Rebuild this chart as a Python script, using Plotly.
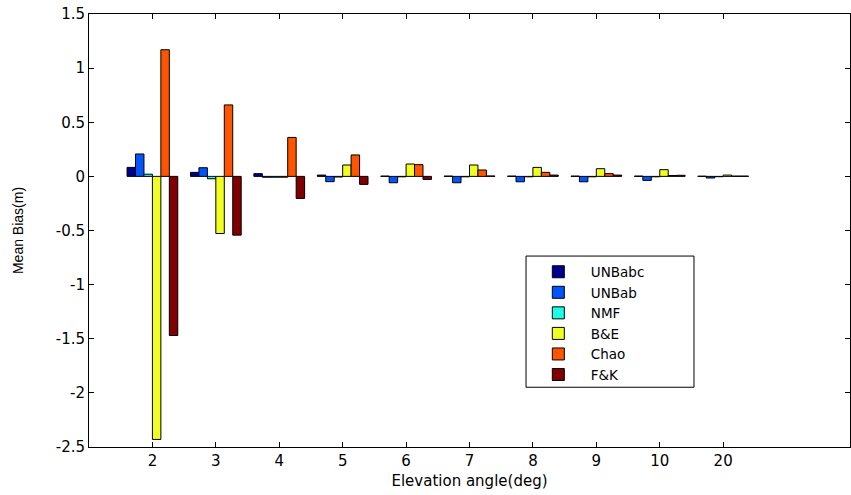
import plotly.graph_objects as go

categories = ["2", "3", "4", "5", "6", "7", "8", "9", "10", "20"]
positions = [1, 2, 3, 4, 5, 6, 7, 8, 9, 10]

unbabc = [0.083, 0.037, 0.025, 0.012, 0.003, 0.003, 0.003, 0.003, 0.003, 0.002]
unbab = [0.207, 0.080, -0.008, -0.049, -0.059, -0.059, -0.050, -0.050, -0.037, -0.015]
nmf = [0.020, -0.022, -0.008, -0.006, -0.004, -0.004, -0.004, -0.004, -0.004, -0.003]
be = [-2.43, -0.528, -0.008, 0.105, 0.114, 0.105, 0.083, 0.071, 0.062, 0.012]
chao = [1.17, 0.66, 0.36, 0.198, 0.108, 0.059, 0.037, 0.025, 0.008, 0.003]
fk = [-1.47, -0.543, -0.204, -0.074, -0.028, 0.004, 0.012, 0.012, 0.010, 0.003]

series_names = ["UNBabc", "UNBab", "NMF", "B&E", "Chao", "F&K"]
series_values = [unbabc, unbab, nmf, be, chao, fk]
series_colors = ["#00008F", "#0055FF", "#1AFFE6", "#F0FF20", "#FF5500", "#800000"]

y_tick_vals = [1.5, 1, 0.5, 0, -0.5, -1, -1.5, -2, -2.5]
y_tick_text = ["1.5", "1", "0.5", "0", "-0.5", "-1", "-1.5", "-2", "-2.5"]

FONT = "DejaVu Sans, Liberation Sans, sans-serif"
FONT_V = "Liberation Sans, Arial, sans-serif"

fig = go.Figure()
for name, vals, col in zip(series_names, series_values, series_colors):
    fig.add_trace(go.Bar(
        x=positions, y=vals, name=name,
        marker=dict(color=col, line=dict(color="black", width=1)),
    ))

# legend frame (styling only)
fig.add_shape(type="rect", xref="paper", yref="paper",
              x0=0.5743, x1=0.795, y0=0.138, y1=0.441,
              line=dict(color="black", width=1), fillcolor="white", layer="above")

fig.update_layout(
    width=851, height=495,
    margin=dict(l=89, r=1, t=14, b=48, autoexpand=False),
    paper_bgcolor="white", plot_bgcolor="white",
    barmode="group", bargap=0.2, bargroupgap=0,
    font=dict(family=FONT, size=15, color="black"),
    showlegend=True,
    legend=dict(
        x=0.574, y=0.44, xanchor="left", yanchor="top",
        bgcolor="rgba(0,0,0,0)", borderwidth=0,
        font=dict(family=FONT, size=13.5, color="black"),
        tracegroupgap=0, itemwidth=55,
    ),
    xaxis=dict(
        range=[0, 12], tickmode="array", tickvals=positions, ticktext=categories,
        showgrid=False, zeroline=False, showline=True, linecolor="black", linewidth=1,
        mirror="ticks", ticks="inside", ticklen=5, tickcolor="black", automargin=False,
        title=dict(text="Elevation angle(deg)", font=dict(family=FONT, size=15), standoff=6),
        tickfont=dict(family=FONT, size=15),
    ),
    yaxis=dict(
        range=[-2.5, 1.5], tickmode="array", tickvals=y_tick_vals, ticktext=y_tick_text,
        showgrid=False, zeroline=False, showline=True, linecolor="black", linewidth=1,
        mirror="ticks", ticks="inside", ticklen=5, tickcolor="black", automargin=False,
        title=dict(text="Mean Bias(m)", font=dict(family=FONT_V, size=14), standoff=28),
        tickfont=dict(family=FONT, size=15),
    ),
)

fig.write_html("out.html", config={"displayModeBar": False},
               post_script="document.body.style.margin='0';")
